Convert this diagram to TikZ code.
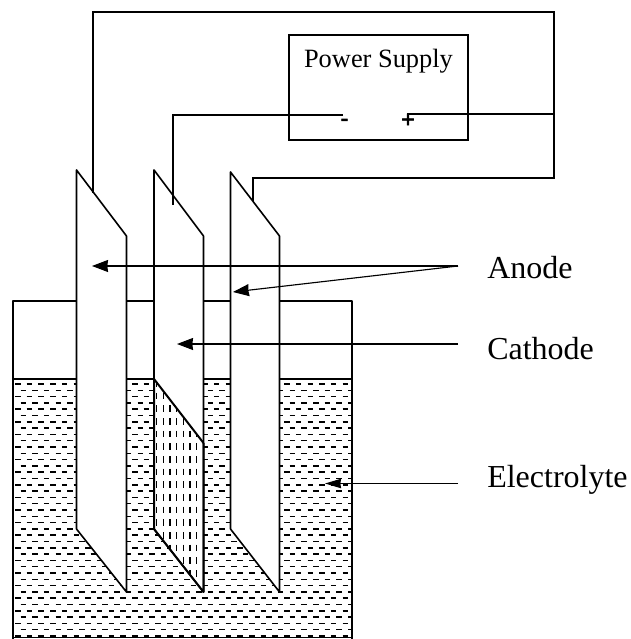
\documentclass[tikz,border=0pt]{standalone}
\usepackage{fontspec}
\setmainfont{Liberation Serif}
\newfontfamily\signfont[FakeBold=3]{Liberation Sans}
\usetikzlibrary{arrows.meta}
\tikzset{
  line/.style={draw=black,line width=1.2pt,line join=round},
  wire/.style={draw=black,line width=1.05pt,line join=miter},
  plate/.style={line width=1.2pt,draw=black,fill=white,line join=round},
  pointer/.style={draw=black,line width=0.85pt,-{Stealth[length=12pt,width=9pt,inset=0.5pt]}},
  small pointer/.style={draw=black,line width=0.85pt,-{Stealth[length=12pt,width=7pt,inset=0.5pt]}},
  lbl/.style={inner sep=0pt,anchor=base west,font=\fontsize{24}{26}\selectfont},
  dash mark/.style={draw=black,line width=1.15pt},
  sign/.style={inner sep=0pt,font=\signfont\fontsize{17}{17}\selectfont}
}
\begin{document}
\begin{tikzpicture}[x=0.75pt,y=-0.75pt]
\useasboundingbox (0,0) rectangle (631,639);
% tank
\draw[line] (13,379) -- (13,301) -- (352,301) -- (352,379);
% electrolyte
\begin{scope}
\clip (13,379) rectangle (352,639);
\foreach \r in {0,...,41}{
  \pgfmathsetmacro{\yy}{384+6.3*\r}
  \pgfmathsetmacro{\off}{mod(\r,2)*5.5}
  \foreach \c in {0,...,30}{
    \draw[dash mark] ({15+\off+11.7*\c},\yy) -- ++(5.5,0);
  }
}
\end{scope}
\draw[line] (13,379) -- (352,379);
\draw[line] (13,379) -- (13,639);
\draw[line] (352,379) -- (352,639);
\draw[line] (13,637.5) -- (352,637.5);
% plates
\draw[plate] (76.5,170) -- (126.5,236) -- (126.5,592) -- (76.5,529) -- cycle;
\draw[plate] (154,170) -- (203.5,236) -- (203.5,592) -- (154,529) -- cycle;
\draw[plate] (230.5,172) -- (279.5,236) -- (279.5,592) -- (230.5,529) -- cycle;
% submerged cathode
\begin{scope}
\clip (154,379) -- (203.5,443) -- (203.5,592) -- (154,529) -- cycle;
\foreach \c in {0,...,7}{
  \draw[dash mark,line width=1pt,dash pattern=on 5pt off 4.5pt] ({156.5+6.7*\c},380) -- ({156.5+6.7*\c},600);
}
\end{scope}
\draw[line,line width=1.5pt] (154,379) -- (203.5,443);
\draw[line,line width=1.5pt] (154,379) -- (154,529) -- (203.5,592) -- (203.5,443);
% power supply
\node[draw=black,line width=1.05pt,minimum width=134pt,minimum height=79pt,inner sep=0pt] (ps) at (378.5,87.5) {};
\node[inner sep=0pt,anchor=base,font=\fontsize{19.8}{22}\selectfont] (pstext) at (378.5,67) {Power Supply};
\node[sign] (minus) at (344.5,122.5) {-};
\node[sign] (plus) at (408,120.5) {+};
% wires
\coordinate (a1) at (93,193);
\coordinate (c1) at (173,205);
\coordinate (a3) at (253,201);
\coordinate (pl) at (407,114);
\coordinate (mi) at (343,115);
\coordinate (jn) at (554,114);
\draw[wire] (a1) -- (93,12) -- (554,12) -- (554,178) -- (253,178) -- (a3);
\draw[wire] (mi) -- (173,115) -- (c1);
\draw[wire] (pl) -- (jn);
% labels
\node[lbl] (anode) at (487,278) {Anode};
\node[lbl] (cathode) at (487,359.5) {Cathode};
\node[lbl] (elec) at (487,487) {Electrolyte};
\coordinate (an) at (458,266);
\coordinate (ca) at (458,344);
\coordinate (el) at (458,483.5);
\coordinate (t1) at (92,266);
\coordinate (t2) at (233,292);
\coordinate (t3) at (177,344);
\coordinate (t4) at (325,483.5);
\draw[pointer] (an) -- (t1);
\draw[pointer] (an) -- (t2);
\draw[pointer] (ca) -- (t3);
\draw[small pointer] (el) -- (t4);
\end{tikzpicture}
\end{document}
